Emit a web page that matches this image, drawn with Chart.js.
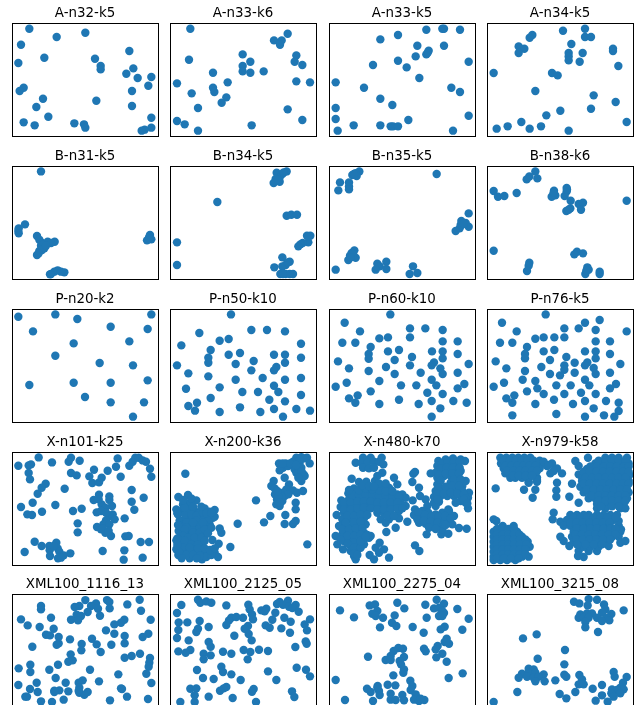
<!DOCTYPE html>
<html>
<head>
<meta charset="utf-8">
<title>CVRP instances</title>
<script src="https://cdn.jsdelivr.net/npm/chart.js@4"></script>
<style>
  html, body { margin: 0; padding: 0; background: #fff; overflow: hidden; width: 644px; height: 705px; }
  #grid { position: relative; width: 644px; height: 705px; overflow: hidden; }
  #grid canvas { position: absolute; }
</style>
</head>
<body>
<div id="grid"></div>
<script>
// values, x 0-438 and y 0-339 in every panel
const an32k5 = [[52,322],[134,297],[220,310],[27,274],[19,219],[97,235],[249,232],[266,210],[266,200],[352,255],[364,203],[343,187],[377,174],[418,177],[409,151],[360,135],[35,145],[23,135],[93,112],[73,87],[253,106],[360,90],[109,58],[35,41],[68,32],[187,38],[216,35],[220,25],[418,55],[418,25],[398,19],[389,16]];
const an33k6 = [[61,322],[353,307],[312,287],[335,287],[330,274],[379,242],[374,223],[397,213],[218,245],[241,223],[218,210],[218,194],[241,190],[281,194],[57,229],[129,190],[173,161],[379,164],[420,161],[21,158],[129,145],[133,132],[65,128],[169,116],[155,100],[84,84],[353,80],[21,45],[44,35],[397,48],[245,32],[84,16]];
const an33k5 = [[292,319],[340,322],[345,322],[393,319],[207,303],[154,290],[265,271],[345,271],[299,256],[292,245],[296,250],[260,239],[207,226],[419,223],[132,213],[233,206],[271,174],[20,161],[105,145],[367,145],[393,132],[154,112],[190,93],[20,84],[419,61],[20,51],[238,48],[74,32],[154,32],[185,29],[192,29],[207,29],[26,16],[372,16]];
const an34k5 = [[294,322],[228,316],[294,297],[312,297],[136,303],[128,295],[253,276],[95,269],[112,262],[95,249],[378,262],[378,255],[245,249],[245,239],[287,249],[245,227],[278,223],[394,210],[20,189],[195,189],[212,182],[145,135],[320,122],[386,102],[312,82],[220,76],[178,62],[103,42],[419,42],[62,29],[162,29],[29,22],[128,22],[245,16]];
const bn31k5 = [[87,323],[39,164],[20,152],[19,144],[20,137],[75,129],[82,118],[90,108],[107,112],[128,112],[117,108],[87,100],[97,92],[82,84],[75,72],[92,102],[414,132],[411,125],[418,119],[405,116],[117,15],[127,22],[137,26],[157,20],[147,22],[114,14],[90,87],[80,77],[102,100],[412,122]];
const bn34k5 = [[350,323],[320,319],[337,315],[329,305],[317,300],[329,292],[311,288],[142,231],[350,190],[364,193],[381,193],[411,130],[421,130],[415,110],[398,108],[391,104],[385,98],[21,110],[21,42],[337,65],[359,52],[347,42],[337,38],[313,35],[331,15],[347,15],[359,15],[369,15],[339,15],[353,50],[415,128],[324,297],[341,320]];
const bn35k5 = [[91,323],[80,318],[70,312],[83,309],[323,315],[33,290],[60,290],[28,266],[60,278],[60,269],[419,197],[397,174],[410,168],[395,162],[419,157],[392,152],[380,144],[76,86],[68,78],[63,70],[80,64],[58,57],[72,75],[20,28],[172,52],[145,46],[152,38],[140,28],[172,30],[252,38],[265,18],[242,15],[404,165],[75,315],[65,65]];
const bn38k6 = [[145,323],[127,308],[119,299],[151,302],[20,264],[33,247],[52,249],[89,258],[201,265],[239,273],[239,263],[205,251],[194,247],[233,249],[251,235],[275,225],[288,229],[282,208],[250,212],[238,204],[419,235],[20,85],[270,82],[262,74],[288,77],[127,49],[125,40],[120,24],[301,35],[305,28],[295,15],[338,22],[338,15],[240,268],[200,255],[245,208],[200,260],[298,25]];
const pn20k2 = [[19,316],[130,323],[196,309],[418,323],[63,272],[296,286],[407,279],[185,236],[352,242],[130,199],[263,177],[363,170],[52,111],[185,118],[296,118],[407,125],[219,75],[296,59],[396,59],[363,16]];
const pn50k10 = [[183,323],[244,276],[291,276],[345,272],[88,267],[176,249],[149,244],[393,235],[34,230],[122,216],[176,202],[210,207],[312,202],[345,202],[393,193],[115,193],[115,178],[251,183],[345,178],[197,174],[319,165],[312,155],[21,170],[244,155],[55,146],[115,137],[278,132],[197,127],[345,127],[393,132],[312,109],[48,100],[149,104],[217,90],[264,90],[325,90],[393,81],[122,72],[298,67],[345,62],[81,58],[55,48],[210,44],[75,34],[149,30],[271,30],[312,39],[379,39],[420,34],[339,16]];
const pn60k10 = [[184,323],[47,298],[243,281],[289,281],[341,276],[93,272],[177,254],[151,251],[243,254],[40,238],[79,238],[341,242],[386,242],[125,225],[177,212],[210,216],[309,212],[341,212],[386,204],[119,204],[119,190],[249,195],[341,191],[197,186],[27,182],[315,179],[308,170],[243,170],[419,174],[171,165],[60,161],[334,161],[119,153],[275,148],[197,144],[341,144],[386,148],[308,127],[151,123],[53,118],[20,106],[216,110],[262,110],[322,110],[406,114],[386,101],[125,92],[295,88],[341,84],[86,80],[60,71],[210,67],[79,58],[308,63],[373,63],[413,58],[151,54],[269,54],[334,41],[308,16]];
const pn76k5 = [[176,323],[45,298],[338,306],[294,298],[232,281],[275,281],[326,276],[419,272],[89,272],[145,250],[170,254],[202,254],[232,254],[39,238],[76,238],[326,242],[369,242],[120,225],[170,212],[202,216],[294,212],[326,212],[369,204],[114,204],[114,191],[238,195],[326,191],[189,186],[26,182],[263,178],[301,179],[294,170],[232,170],[400,174],[163,165],[58,161],[320,162],[232,157],[114,153],[263,148],[189,144],[326,144],[369,148],[219,140],[107,127],[294,127],[145,123],[51,118],[20,106],[208,110],[251,110],[307,110],[387,114],[369,101],[151,101],[120,92],[282,88],[170,84],[326,84],[232,84],[82,80],[58,71],[201,67],[76,58],[145,54],[294,63],[357,63],[258,54],[395,58],[320,41],[395,33],[76,20],[208,24],[294,16],[351,20],[382,16]];
const xn101k25 = [[80,323],[19,298],[50,299],[57,302],[120,308],[177,322],[170,310],[203,313],[317,320],[312,295],[352,298],[362,310],[370,322],[380,322],[392,314],[402,310],[414,289],[418,265],[50,276],[54,257],[177,276],[194,269],[246,286],[287,283],[232,266],[326,265],[241,246],[261,248],[269,262],[101,244],[89,232],[77,214],[158,229],[359,225],[395,202],[261,211],[292,206],[245,195],[292,195],[359,190],[62,187],[130,180],[27,174],[269,182],[300,177],[280,172],[367,166],[209,169],[183,162],[90,160],[46,152],[60,150],[254,158],[267,162],[302,152],[292,147],[308,137],[282,134],[338,140],[197,125],[274,122],[292,122],[255,114],[267,107],[197,98],[280,97],[297,87],[340,86],[350,87],[68,70],[133,67],[89,57],[112,57],[386,69],[411,69],[113,44],[137,50],[142,40],[38,39],[272,42],[337,44],[175,35],[114,27],[155,29],[138,20],[147,22],[335,16],[392,22],[260,197],[125,57],[282,157],[272,110],[290,102]];
const xn200k36 = [[379,322],[394,324],[411,322],[369,310],[389,307],[419,305],[347,305],[327,305],[339,292],[329,284],[354,297],[374,287],[394,292],[379,277],[401,272],[389,267],[404,267],[394,252],[344,262],[311,252],[304,237],[314,230],[357,242],[349,227],[369,224],[381,217],[399,222],[339,217],[329,212],[315,212],[344,207],[321,197],[337,192],[319,182],[329,177],[377,187],[377,167],[346,150],[301,147],[282,128],[344,123],[369,123],[377,132],[258,194],[203,124],[412,62],[181,54],[46,274],[25,204],[54,210],[79,194],[59,187],[39,182],[19,167],[34,162],[54,167],[104,170],[134,165],[74,162],[89,157],[119,152],[109,140],[29,134],[49,140],[69,144],[89,137],[129,142],[39,122],[59,117],[79,122],[99,117],[119,122],[34,107],[54,102],[74,104],[94,102],[114,107],[149,110],[154,97],[44,92],[64,87],[84,90],[104,87],[29,82],[19,74],[49,72],[69,72],[89,72],[127,75],[146,64],[34,57],[54,57],[74,57],[94,57],[19,47],[39,42],[59,42],[79,42],[99,37],[114,37],[134,37],[25,30],[59,20],[96,17],[144,24],[109,24],[24,152],[44,152],[64,132],[99,147],[84,127],[114,132],[26,102],[64,112],[89,112],[109,97],[34,72],[59,82],[79,77],[99,72],[44,172],[64,152],[79,147],[99,157],[119,137],[79,132],[99,127],[49,127],[69,127],[29,117],[49,112],[69,97],[89,97],[104,107],[124,112],[44,107],[39,87],[54,82],[74,82],[94,82],[114,95],[29,62],[44,72],[64,62],[84,62],[104,72],[39,52],[59,52],[84,50],[104,50],[29,37],[49,30],[69,30],[89,27],[124,30],[35,20],[80,20],[120,45],[134,50],[119,160],[109,155],[69,175],[39,195],[64,200],[134,145],[124,157],[94,175],[22,155],[22,80],[22,60],[24,120],[355,212],[335,205],[325,205],[330,187],[322,222],[385,280],[395,280],[385,262],[360,305],[338,305],[405,320],[390,318],[378,300]];
const xn480k70 = [[102,322],[125,322],[158,322],[80,307],[98,307],[115,307],[135,310],[150,310],[163,302],[102,292],[120,290],[135,292],[328,312],[350,317],[372,320],[395,317],[408,312],[325,297],[345,302],[365,302],[385,302],[320,277],[340,282],[360,284],[380,287],[395,282],[305,275],[325,262],[345,267],[365,267],[385,267],[410,252],[325,242],[365,247],[385,247],[400,237],[320,222],[340,224],[360,227],[380,227],[420,217],[400,222],[315,204],[335,207],[355,207],[375,207],[395,207],[417,202],[395,192],[315,187],[330,190],[380,187],[410,187],[417,170],[358,167],[290,197],[295,177],[320,177],[270,232],[273,207],[258,279],[250,249],[253,274],[251,194],[68,259],[90,249],[112,250],[138,252],[160,277],[145,267],[195,262],[205,242],[140,237],[160,234],[180,232],[75,230],[58,215],[80,217],[100,222],[120,220],[140,217],[160,214],[185,212],[205,212],[220,212],[230,202],[37,194],[60,197],[80,197],[100,202],[120,202],[140,197],[160,197],[180,197],[200,197],[215,187],[35,174],[55,177],[75,177],[95,180],[115,182],[135,177],[155,177],[175,177],[195,177],[210,162],[230,177],[23,150],[45,157],[65,157],[85,160],[105,162],[145,157],[165,157],[185,157],[210,140],[235,130],[180,137],[155,137],[170,127],[40,137],[65,137],[85,140],[105,140],[30,117],[50,117],[70,117],[90,120],[110,122],[58,102],[258,167],[280,162],[298,157],[320,152],[340,157],[360,162],[375,147],[255,150],[275,144],[295,140],[315,137],[335,137],[355,130],[270,127],[290,124],[310,122],[328,117],[370,122],[293,92],[337,92],[358,94],[390,111],[413,109],[200,112],[172,99],[258,59],[271,42],[340,107],[20,87],[40,92],[65,97],[85,102],[105,97],[125,87],[25,62],[42,47],[65,77],[85,82],[105,77],[65,57],[85,62],[105,62],[85,44],[65,42],[75,27],[80,17],[152,67],[140,52],[165,47],[150,37],[180,22],[122,30],[135,17],[120,82],[45,72],[338,305],[355,310],[375,310],[392,310],[335,290],[352,292],[372,292],[392,292],[330,270],[350,274],[370,275],[390,275],[335,252],[375,257],[395,257],[330,232],[350,235],[370,237],[390,237],[325,213],[345,215],[365,217],[385,215],[405,212],[410,200],[325,197],[405,197],[415,185],[70,210],[90,210],[110,210],[130,210],[150,207],[170,207],[190,205],[210,205],[45,187],[65,187],[85,190],[105,190],[125,190],[145,187],[165,187],[185,187],[205,187],[45,167],[65,167],[85,170],[105,172],[125,170],[145,167],[165,167],[185,167],[205,170],[220,170],[55,147],[75,147],[95,150],[115,150],[175,147],[195,147],[50,127],[75,127],[95,130],[40,107],[60,107],[80,110],[100,110],[90,225],[110,230],[130,227],[150,225],[170,222],[150,245],[170,245],[190,222],[60,225],[100,240],[120,237],[135,235],[268,158],[288,150],[308,147],[328,145],[348,147],[365,140],[265,137],[285,134],[305,130],[325,127],[345,122],[300,112],[320,108],[350,120],[55,87],[75,87],[95,90],[115,90],[75,67],[95,70],[55,65],[75,52],[95,52],[35,75],[75,35],[95,72],[110,85],[85,30]];
const xn979k58 = [[355,322],[375,322],[395,322],[420,322],[325,305],[345,305],[365,305],[385,305],[405,305],[425,305],[300,288],[318,288],[338,288],[358,288],[378,288],[398,288],[418,288],[280,270],[298,270],[318,270],[338,270],[358,270],[378,270],[398,270],[418,270],[427,270],[285,252],[305,252],[325,252],[345,252],[365,252],[385,252],[405,252],[425,252],[280,235],[298,235],[318,235],[338,235],[358,235],[378,235],[398,235],[418,235],[290,218],[310,218],[330,218],[350,218],[370,218],[390,218],[410,218],[425,218],[305,200],[325,200],[345,200],[365,200],[385,200],[405,200],[420,200],[330,183],[350,183],[370,183],[390,183],[410,183],[330,170],[355,170],[400,170],[415,170],[275,272],[265,312],[275,297],[303,322],[255,244],[247,205],[275,187],[40,322],[58,322],[76,322],[94,322],[112,322],[130,322],[42,305],[60,305],[78,305],[96,305],[114,305],[132,305],[150,305],[168,305],[195,305],[50,290],[68,290],[86,290],[104,290],[122,290],[140,290],[158,290],[210,290],[55,275],[73,275],[90,275],[108,275],[125,275],[145,275],[190,275],[225,275],[70,262],[85,262],[105,262],[125,262],[150,262],[125,250],[150,250],[26,230],[111,226],[145,226],[137,202],[210,247],[208,224],[208,205],[125,247],[150,255],[20,137],[28,132],[47,117],[80,117],[20,100],[38,100],[55,100],[72,100],[90,100],[20,85],[38,85],[55,85],[72,85],[90,85],[105,85],[20,70],[38,70],[55,70],[72,70],[90,70],[108,70],[122,70],[20,55],[38,55],[55,55],[72,55],[90,55],[108,55],[128,55],[20,40],[38,40],[55,40],[72,40],[90,40],[108,40],[20,25],[38,25],[55,25],[72,25],[90,25],[105,25],[125,25],[20,15],[40,15],[60,15],[85,15],[200,157],[197,137],[220,130],[250,150],[270,150],[290,150],[305,150],[330,150],[350,150],[370,150],[390,150],[240,135],[258,135],[278,135],[298,135],[318,135],[338,135],[358,135],[378,135],[230,118],[250,118],[268,118],[288,118],[308,118],[328,118],[348,118],[368,118],[395,118],[260,100],[280,100],[300,100],[320,100],[340,100],[360,100],[400,100],[255,85],[275,85],[295,85],[315,85],[335,85],[355,85],[375,85],[395,85],[260,70],[280,70],[300,70],[320,70],[340,70],[360,70],[220,85],[230,72],[247,57],[275,42],[273,27],[290,24],[305,42],[330,42],[365,57],[290,55],[310,55],[335,55],[400,67],[415,72],[402,107],[395,132],[335,313],[355,313],[375,313],[395,313],[415,313],[310,296],[330,296],[350,296],[370,296],[390,296],[410,296],[425,296],[290,279],[308,279],[328,279],[348,279],[368,279],[388,279],[408,279],[425,279],[295,261],[315,261],[335,261],[355,261],[375,261],[395,261],[415,261],[290,244],[308,244],[328,244],[348,244],[368,244],[388,244],[408,244],[425,244],[300,226],[320,226],[340,226],[360,226],[380,226],[400,226],[420,226],[315,209],[335,209],[355,209],[375,209],[395,209],[415,209],[335,192],[355,192],[375,192],[395,192],[415,192],[342,176],[375,176],[395,176],[50,313],[68,313],[86,313],[104,313],[122,313],[140,313],[158,313],[55,297],[73,297],[91,297],[109,297],[127,297],[145,297],[180,297],[60,282],[80,282],[98,282],[115,282],[135,282],[150,282],[200,282],[78,268],[95,268],[115,268],[135,268],[170,310],[185,300],[30,108],[47,108],[64,108],[81,108],[30,92],[47,92],[64,92],[81,92],[97,92],[30,77],[47,77],[64,77],[81,77],[99,77],[115,77],[30,62],[47,62],[64,62],[81,62],[99,62],[118,62],[30,47],[47,47],[64,47],[81,47],[99,47],[115,47],[30,32],[47,32],[64,32],[81,32],[98,32],[115,32],[30,20],[50,20],[72,20],[95,20],[260,142],[280,142],[300,142],[320,142],[340,142],[360,142],[385,142],[250,127],[268,127],[288,127],[308,127],[328,127],[348,127],[368,127],[270,109],[290,109],[310,109],[330,109],[350,109],[370,109],[385,109],[265,92],[285,92],[305,92],[325,92],[345,92],[365,92],[385,92],[268,77],[288,77],[308,77],[328,77],[348,77],[370,77],[270,62],[295,62],[320,62],[345,62]];
const xml1116 = [[220,321],[285,321],[292,315],[383,322],[346,308],[252,311],[202,303],[188,300],[87,303],[87,293],[237,303],[258,295],[293,296],[387,289],[227,285],[264,274],[194,277],[207,273],[117,268],[27,263],[416,262],[177,262],[198,260],[337,262],[327,253],[307,248],[47,245],[83,240],[125,235],[282,230],[102,217],[114,215],[140,210],[307,220],[338,213],[409,220],[392,210],[174,203],[240,205],[254,188],[298,187],[338,191],[140,191],[134,187],[61,181],[209,189],[208,170],[266,165],[176,158],[384,160],[359,153],[338,148],[414,147],[182,140],[169,136],[412,133],[410,121],[55,127],[138,127],[20,116],[234,112],[112,112],[55,105],[403,100],[319,98],[131,87],[74,73],[19,66],[161,73],[261,77],[212,80],[200,73],[418,72],[54,54],[77,45],[127,49],[142,50],[169,47],[202,58],[327,56],[202,43],[227,45],[217,37],[40,31],[45,31],[87,17],[120,15],[155,22],[294,20],[345,31],[408,24],[127,45],[200,48],[330,54]];
const xml2125 = [[84,322],[91,313],[109,317],[124,313],[34,306],[169,305],[235,307],[329,315],[354,319],[321,309],[339,307],[377,306],[357,301],[367,297],[274,290],[289,295],[284,287],[239,293],[246,278],[386,286],[316,283],[21,282],[343,268],[307,262],[184,268],[199,270],[219,268],[177,260],[249,263],[169,246],[89,258],[26,254],[52,254],[362,256],[420,263],[404,248],[116,240],[234,243],[224,235],[287,245],[299,238],[334,236],[411,230],[25,231],[84,235],[79,225],[360,223],[236,219],[193,214],[21,207],[245,200],[56,200],[116,195],[407,197],[410,190],[122,181],[376,180],[61,171],[25,167],[47,163],[221,171],[241,165],[267,172],[294,168],[101,160],[122,155],[159,166],[184,160],[101,143],[233,143],[154,121],[380,118],[408,112],[81,111],[159,105],[294,107],[184,98],[420,92],[99,87],[131,84],[212,81],[319,81],[61,55],[79,56],[169,60],[161,56],[150,49],[251,54],[246,46],[366,47],[373,30],[74,35],[116,31],[188,27],[31,15],[74,15],[258,15]];
const xml2275 = [[323,322],[205,313],[122,305],[138,308],[226,296],[289,307],[345,310],[315,296],[330,298],[385,294],[33,290],[145,288],[130,280],[140,273],[162,268],[197,275],[75,269],[345,282],[330,273],[293,268],[419,265],[189,253],[202,243],[153,239],[251,240],[347,241],[335,233],[400,232],[284,223],[353,205],[347,195],[360,190],[326,183],[208,177],[222,175],[194,168],[285,175],[290,167],[320,173],[340,160],[117,151],[185,153],[225,150],[170,141],[185,141],[212,138],[322,149],[353,136],[216,128],[225,113],[223,103],[401,101],[193,95],[20,81],[359,87],[244,79],[176,67],[199,65],[146,63],[250,63],[114,55],[125,45],[150,48],[245,51],[185,40],[152,36],[220,36],[260,38],[48,21],[132,18],[185,22],[200,21],[225,20],[255,22],[270,18],[286,21],[275,25],[145,58],[340,288],[340,273]];
const xml3215 = [[261,316],[277,311],[305,324],[330,322],[302,305],[351,308],[410,290],[355,293],[345,283],[373,279],[280,278],[300,281],[315,281],[275,268],[290,268],[305,268],[330,268],[360,268],[345,258],[367,260],[295,255],[295,239],[333,225],[149,218],[108,206],[234,171],[152,145],[232,128],[125,115],[140,113],[105,100],[125,103],[145,103],[170,98],[95,88],[120,91],[140,88],[155,91],[145,77],[173,77],[205,80],[232,97],[238,91],[380,105],[383,91],[419,90],[277,96],[285,83],[275,68],[290,68],[345,66],[408,73],[400,58],[410,53],[375,53],[390,51],[317,55],[91,45],[265,45],[373,41],[400,41],[345,35],[218,39],[380,31],[238,26],[326,19],[362,16],[20,15]];

const titles = ["A-n32-k5", "A-n33-k6", "A-n33-k5", "A-n34-k5", "B-n31-k5", "B-n34-k5", "B-n35-k5", "B-n38-k6", "P-n20-k2", "P-n50-k10", "P-n60-k10", "P-n76-k5", "X-n101-k25", "X-n200-k36", "X-n480-k70", "X-n979-k58", "XML100_1116_13", "XML100_2125_05", "XML100_2275_04", "XML100_3215_08"];
const series = [an32k5, an33k6, an33k5, an34k5, bn31k5, bn34k5, bn35k5, bn38k6, pn20k2, pn50k10, pn60k10, pn76k5, xn101k25, xn200k36, xn480k70, xn979k58, xml1116, xml2125, xml2275, xml3215];

const colLeft = [12, 170, 329, 487];
const rowTop = [23, 166, 309, 452, 594];
const plotW = 146;
const plotH = 113;
const pad = 6;
const titleBand = 22;

// the axes frame, no ticks in the original
const framePlugin = {
  id: "frame",
  afterDatasetsDraw(chart) {
    const a = chart.chartArea;
    const ctx = chart.ctx;
    ctx.save();
    ctx.strokeStyle = "#000";
    ctx.lineWidth = 1;
    ctx.strokeRect(Math.round(a.left) + 0.5, Math.round(a.top) + 0.5, Math.round(a.width), Math.round(a.height));
    ctx.restore();
  },
};

const grid = document.getElementById("grid");

titles.forEach(function (title, i) {
  const canvas = document.createElement("canvas");
  const w = plotW + pad * 2;
  const h = plotH + titleBand + pad;
  canvas.width = w;
  canvas.height = h;
  canvas.style.width = w + "px";
  canvas.style.height = h + "px";
  canvas.style.left = colLeft[i % 4] - pad + "px";
  canvas.style.top = rowTop[Math.floor(i / 4)] - titleBand + "px";
  grid.appendChild(canvas);

  new Chart(canvas, {
    type: "scatter",
    data: {
      datasets: [
        {
          data: series[i].map((p) => ({ x: p[0], y: p[1] })),
          backgroundColor: "#1f77b4",
          borderWidth: 0,
          pointRadius: 4.2,
          clip: false,
        },
      ],
    },
    options: {
      responsive: false,
      animation: false,
      layout: { padding: { left: pad, right: pad, bottom: pad, top: 0 } },
      scales: {
        x: { display: false, min: 0, max: 438 },
        y: { display: false, min: 0, max: 339 },
      },
      plugins: {
        legend: { display: false },
        tooltip: { enabled: false },
        title: {
          display: true,
          text: title,
          color: "#000",
          font: { family: "DejaVu Sans", size: 13.4, weight: "normal", lineHeight: 1.2 },
          padding: { top: 4, bottom: 2 },
        },
      },
    },
    plugins: [framePlugin],
  });
});
</script>
</body>
</html>
